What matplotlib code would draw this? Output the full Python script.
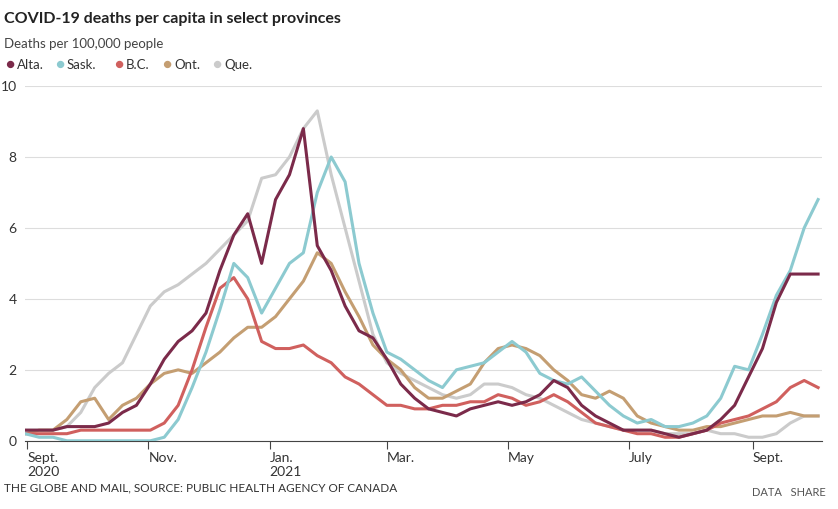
import matplotlib
matplotlib.use("Agg")
import matplotlib.pyplot as plt
import pandas as pd

plt.rcParams['font.family'] = ['Lato', 'DejaVu Sans']

# weekly values starting Aug 31 2020
dates = pd.date_range("2020-08-31", periods=58, freq="7D")
alta = [0.3,0.3,0.3,0.4,0.4,0.4,0.5,0.8,1.0,1.6,2.3,2.8,3.1,3.6,4.8,5.8,6.4,5.0,6.8,7.5,8.8,5.5,4.8,3.8,3.1,2.9,2.3,1.6,1.2,0.9,0.8,0.7,0.9,1.0,1.1,1.0,1.1,1.3,1.7,1.5,1.0,0.7,0.5,0.3,0.3,0.3,0.2,0.1,0.2,0.3,0.6,1.0,1.8,2.6,3.9,4.7,4.7,4.7]
sask = [0.2,0.1,0.1,0.0,0.0,0.0,0.0,0.0,0.0,0.0,0.1,0.6,1.5,2.5,3.7,5.0,4.6,3.6,4.3,5.0,5.3,7.0,8.0,7.3,5.0,3.6,2.5,2.3,2.0,1.7,1.5,2.0,2.1,2.2,2.5,2.8,2.5,1.9,1.7,1.6,1.8,1.4,1.0,0.7,0.5,0.6,0.4,0.4,0.5,0.7,1.2,2.1,2.0,3.0,4.1,4.8,6.0,6.8]
bc = [0.2,0.2,0.2,0.2,0.3,0.3,0.3,0.3,0.3,0.3,0.5,1.0,2.0,3.2,4.3,4.6,4.0,2.8,2.6,2.6,2.7,2.4,2.2,1.8,1.6,1.3,1.0,1.0,0.9,0.9,1.0,1.0,1.1,1.1,1.3,1.2,1.0,1.1,1.3,1.1,0.8,0.5,0.4,0.3,0.2,0.2,0.1,0.1,0.2,0.3,0.5,0.6,0.7,0.9,1.1,1.5,1.7,1.5]
ont = [0.2,0.3,0.3,0.6,1.1,1.2,0.6,1.0,1.2,1.6,1.9,2.0,1.9,2.2,2.5,2.9,3.2,3.2,3.5,4.0,4.5,5.3,5.0,4.2,3.5,2.7,2.3,2.0,1.5,1.2,1.2,1.4,1.6,2.2,2.6,2.7,2.6,2.4,2.0,1.7,1.3,1.2,1.4,1.2,0.7,0.5,0.4,0.3,0.3,0.4,0.4,0.5,0.6,0.7,0.7,0.8,0.7,0.7]
que = [0.3,0.3,0.3,0.4,0.8,1.5,1.9,2.2,3.0,3.8,4.2,4.4,4.7,5.0,5.4,5.8,6.2,7.4,7.5,8.0,8.8,9.3,7.5,6.0,4.5,3.0,2.2,1.9,1.7,1.5,1.3,1.2,1.3,1.6,1.6,1.5,1.3,1.2,1.0,0.8,0.6,0.5,0.4,0.3,0.3,0.3,0.2,0.2,0.2,0.3,0.2,0.2,0.1,0.1,0.2,0.5,0.7,0.7]

names = ["Alta.", "Sask.", "B.C.", "Ont.", "Que."]
colors = ["#7b2a4a", "#8ccad0", "#d0605e", "#c49e72", "#cbcbcb"]
series = [alta, sask, bc, ont, que]

fig = plt.figure(figsize=(8.38, 5.09), dpi=100)
ax = fig.add_axes([0.030, 0.134, 0.951, 0.697])

for i in [4, 3, 2, 1, 0]:
    ax.plot(dates, series[i], color=colors[i], lw=2.2, zorder=3 + (4 - i))

ax.set_xlim(pd.Timestamp("2020-08-31"), pd.Timestamp("2021-10-06"))
ax.set_ylim(0, 10)
ax.set_yticks([0, 2, 4, 6, 8, 10])
ax.grid(axis="y", color="#dddddd", lw=0.8)
for s in ["top", "right", "left"]:
    ax.spines[s].set_visible(False)
ax.spines["bottom"].set_color("#444444")
ax.tick_params(axis="y", length=0, labelsize=10, colors="#333333", pad=6)

ticks = pd.to_datetime(["2020-09-01", "2020-11-01", "2021-01-01", "2021-03-01",
                        "2021-05-01", "2021-07-01", "2021-09-01"])
labels = ["Sept.\n2020", "Nov.", "Jan.\n2021", "Mar.", "May", "July", "Sept."]
ax.set_xticks(ticks)
ax.set_xticklabels(labels, ha="left", fontsize=10, color="#333333")
ax.tick_params(axis="x", length=6, color="#444444", pad=2)

fig.text(0.005, 0.955, "COVID-19 deaths per capita in select provinces",
         fontsize=11.5, fontweight="bold", color="#222222")
fig.text(0.005, 0.905, "Deaths per 100,000 people", fontsize=9.5, color="#444444")

leg_x = [5, 55, 114, 162, 212]
for px, n, c in zip(leg_x, names, colors):
    fig.text(px / 838, 0.873, "\u25cf", color=c, fontsize=11, va="center")
    fig.text((px + 12) / 838, 0.873, n, fontsize=9.5, color="#333333", va="center")

fig.text(0.005, 0.035, "THE GLOBE AND MAIL, SOURCE: PUBLIC HEALTH AGENCY OF CANADA",
         fontsize=8.5, color="#333333")
fig.text(0.985, 0.025, "DATA   SHARE", fontsize=8, color="#555555", ha="right")

fig.savefig("out.png", dpi=100)
